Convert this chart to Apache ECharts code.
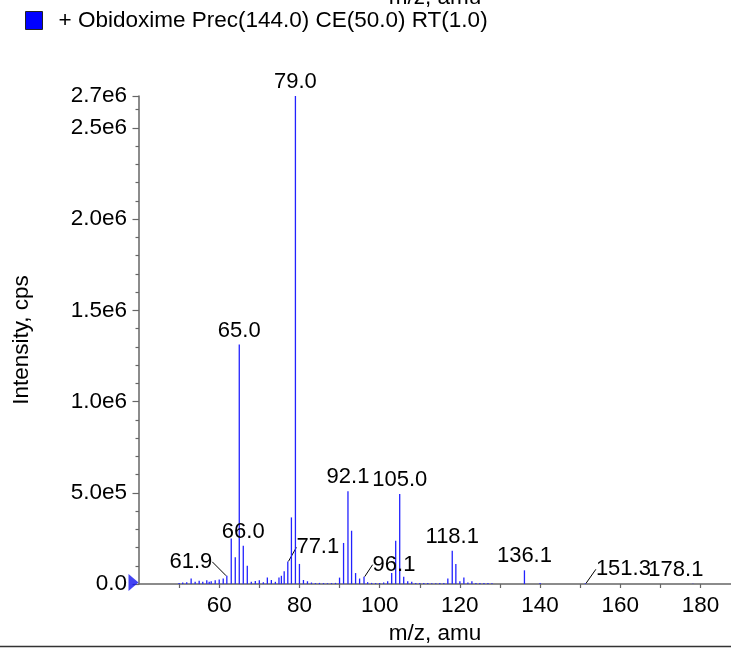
<!DOCTYPE html>
<html>
<head>
<meta charset="utf-8">
<script src="https://cdn.jsdelivr.net/npm/echarts@6/dist/echarts.min.js"></script>
<style>
html,body{margin:0;padding:0;background:#fff;}
#c{width:731px;height:651px;}
</style>
</head>
<body>
<div id="c"></div>
<script>
// ---- data ----
const seriesName = '+ Obidoxime Prec(144.0) CE(50.0) RT(1.0)';
const xAxisTitle = 'm/z, amu';
const yAxisTitle = 'Intensity, cps';
const mz = [50.0,50.9,51.9,53.0,54.0,55.0,55.9,56.9,57.5,58.0,59.0,60.0,61.0,61.9,63.0,64.0,65.0,66.0,67.0,68.0,69.0,70.0,71.0,72.0,73.0,74.0,74.9,75.5,76.2,77.1,78.0,79.0,80.0,81.0,82.0,83.0,84.0,85.0,86.0,87.0,88.0,89.0,90.0,91.0,92.1,93.0,94.0,95.0,96.1,97.0,98.0,99.0,100.0,101.0,102.0,103.0,104.0,105.0,106.0,107.0,108.0,109.0,110.0,111.0,112.0,113.0,114.0,115.0,116.0,117.0,118.1,119.0,120.0,121.0,122.0,123.0,124.0,125.0,126.0,127.0,128.0,136.1,140.0,151.3,178.1];
const intensity = [6000,8000,10000,30000,12000,18000,12000,20000,12000,15000,20000,25000,30000,45000,250000,146000,1313000,210000,100000,12000,16000,20000,10000,35000,22000,12000,35000,45000,70000,124000,365000,2675000,110000,22000,15000,8000,5000,6000,5000,4000,5000,6000,35000,225000,508000,292000,60000,30000,40000,10000,6000,5000,6000,8000,15000,60000,237000,494000,40000,15000,12000,5000,6000,6000,5000,4000,4000,5000,6000,30000,182000,110000,15000,35000,8000,15000,6000,5000,5000,6000,4000,75000,6000,4000,2000];
const labeledPeaks = [61.9,65.0,66.0,77.1,79.0,92.1,96.1,105.0,118.1,136.1,151.3,178.1];
const xMajorTicks = [60,80,100,120,140,160,180];
const xMinorTicks = [50,70,90,110,130,150,170];
const xRange = [40, 187.6];
const yTicks = {step: 500000, minorStep: 100000};

// ---- label placement (style) ----
const labelShift = {'61.9':[-36,0],'77.1':[30,0],'96.1':[30,2],'151.3':[38,0],'178.1':[-17,0]};
const leaderLabels = ['61.9','77.1','96.1','151.3'];

const FONT = 'Liberation Sans, Arial, Helvetica, sans-serif';
const FS = 22.5;
const LFS = 22;
const yMax = Math.max(...intensity);
const blue = '#2222ff';

const barData = mz.map((m,i)=>{
  const item = {value:[m,intensity[i]]};
  const key = m.toFixed(1);
  if (labeledPeaks.some(p=>p.toFixed(1)===key)) {
    item.label = {show:true};
    if (leaderLabels.includes(key)) item.labelLine = {show:true, lineStyle:{color:'#000',width:1}};
  }
  return item;
});

const minorVals = [];
for (let v = yTicks.minorStep; v < yMax; v += yTicks.minorStep) if (v % yTicks.step !== 0) minorVals.push(v);

const yFmt = v => v === 0 ? '0.0' : v.toExponential(1).replace('e+','e');
const tickStyle = {color:'#666', width:1.2};

const chart = echarts.init(document.getElementById('c'), null, {renderer:'canvas'});
chart.setOption({
  animation:false,
  backgroundColor:'#fff',
  textStyle:{fontFamily:FONT},
  legend:{
    data:[seriesName], left:20, top:4, icon:'rect', itemWidth:17, itemHeight:18,
    itemStyle:{color:'#0000ff', borderColor:'#222', borderWidth:1},
    textStyle:{fontSize:FS, color:'#000', fontFamily:FONT, padding:[10,0,0,11]},
    selectedMode:false
  },
  grid:{left:139, top:96, right:0, bottom:67, containLabel:false},
  xAxis:[{
    type:'value', min:xRange[0], max:xRange[1], position:'bottom',
    name:xAxisTitle, nameLocation:'middle', nameGap:35,
    nameTextStyle:{fontSize:FS, color:'#000', fontFamily:FONT},
    axisLine:{show:true, onZero:false, lineStyle:{color:'#666', width:1.5}},
    axisTick:{show:true, length:4, customValues:xMajorTicks, lineStyle:tickStyle},
    splitLine:{show:false},
    axisLabel:{fontSize:FS, color:'#000', margin:10, fontFamily:FONT, customValues:xMajorTicks}
  },{
    type:'value', min:xRange[0], max:xRange[1], position:'bottom',
    axisLine:{show:false},
    axisTick:{show:true, length:4, customValues:xMinorTicks, lineStyle:tickStyle},
    axisLabel:{show:false}, splitLine:{show:false}
  }],
  yAxis:[{
    type:'value', min:0, max:yMax, interval:yTicks.step, position:'left',
    name:yAxisTitle, nameLocation:'middle', nameGap:106, nameRotate:90,
    nameTextStyle:{fontSize:FS, color:'#000', fontFamily:FONT},
    axisLine:{show:true, lineStyle:{color:'#666', width:1.5}},
    axisTick:{show:true, length:6.5, lineStyle:tickStyle},
    splitLine:{show:false},
    axisLabel:{fontSize:FS, color:'#000', margin:12, fontFamily:FONT, formatter:yFmt}
  },{
    type:'value', min:0, max:yMax, position:'left',
    axisLine:{show:false},
    axisTick:{show:true, length:3.5, customValues:minorVals, lineStyle:tickStyle},
    axisLabel:{show:false}, splitLine:{show:false}
  }],
  series:[{
    name:seriesName, type:'bar', xAxisIndex:0, yAxisIndex:0, barWidth:1.3,
    itemStyle:{color:blue},
    data:barData,
    label:{show:false, position:'top', distance:3, fontSize:LFS, color:'#000', fontFamily:FONT,
      formatter:p=>p.value[0].toFixed(1)},
    labelLine:{show:false},
    labelLayout:function(p){
      const s = labelShift[p.text];
      return s ? {dx:s[0], dy:s[1]} : {};
    },
    z:2
  },{
    type:'scatter', xAxisIndex:0, yAxisIndex:0, data:[[xRange[0],0]], clip:false, silent:true,
    symbol:'path://M0,0L10,9L0,18Z', symbolSize:[10,17], symbolOffset:[-5.5,-1.5],
    itemStyle:{color:'#1414f0'}, z:5
  }],
  graphic:[
    {type:'text', x:435, y:-2.6, style:{text:xAxisTitle, fill:'#000', font:FS+'px '+FONT, align:'center', verticalAlign:'middle'}},
    {type:'line', shape:{x1:0,y1:646.5,x2:731,y2:646.5}, style:{stroke:'#333', lineWidth:1.5}}
  ]
});
</script>
</body>
</html>
